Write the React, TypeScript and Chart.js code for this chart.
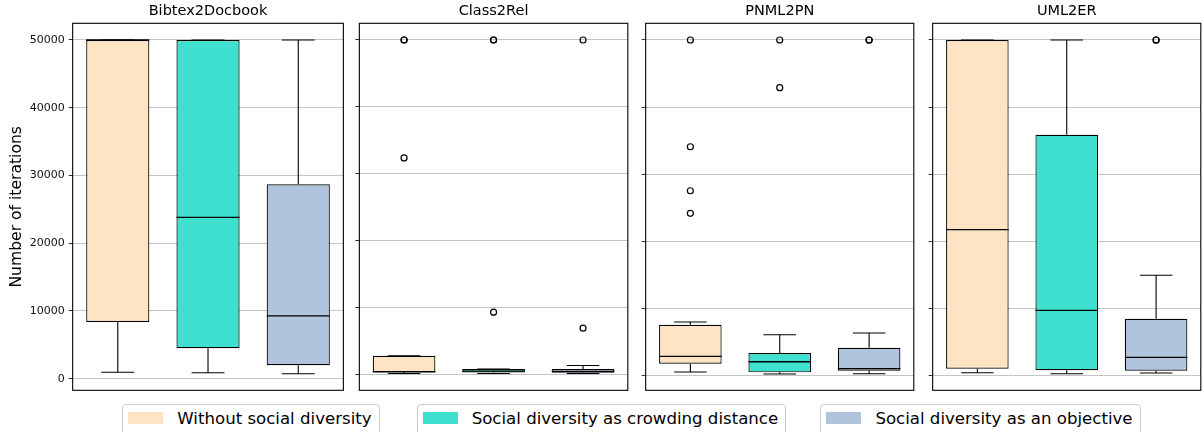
import React, { useEffect, useRef } from 'react';
import { Chart, registerables } from 'chart.js';

Chart.register(...registerables);
Chart.defaults.font.family = "'DejaVu Sans', sans-serif";

// ---------------- data ----------------
const PANEL_TITLES = ['Bibtex2Docbook', 'Class2Rel', 'PNML2PN', 'UML2ER'];
const SERIES = [
  'Without social diversity',
  'Social diversity as crowding distance',
  'Social diversity as an objective',
];
const COLORS = ['#FFE4C4', '#40E0D0', '#B0C4DE'];
const Y_TICKS = [0, 10000, 20000, 30000, 40000, 50000];
const Y_LABEL = 'Number of iterations';

// [lower whisker, q1, median, q3, upper whisker] per series
const bibtexStats = [
  [950, 8370, 50000, 50000, 50000],
  [870, 4490, 23830, 50000, 50000],
  [740, 1980, 9260, 28700, 50000],
];
const class2relStats = [
  [100, 300, 350, 2740, 2740],
  [100, 240, 450, 750, 750],
  [100, 200, 400, 750, 1290],
];
const pnmlStats = [
  [550, 1790, 2890, 7590, 7990],
  [250, 500, 2080, 3380, 6100],
  [300, 740, 1040, 4170, 6350],
];
const uml2erStats = [
  [490, 1090, 21770, 50000, 50000],
  [340, 850, 9780, 35910, 50000],
  [450, 790, 2780, 8530, 14990],
];

// outliers per series
const bibtexOutliers = [[], [], []];
const class2relOutliers = [[50000, 50000, 32350], [50000, 50000, 9270], [50000, 6880]];
const pnmlOutliers = [[50000, 34100, 27550, 24190], [50000, 42900], [50000, 50000]];
const uml2erOutliers = [[], [], [50000, 50000]];

const Y_LIMITS = [
  [-1712, 52465],
  [-2423, 52498],
  [-2175, 52487],
  [-2128, 52485],
];

const PANEL_STATS = [bibtexStats, class2relStats, pnmlStats, uml2erStats];
const PANEL_OUTLIERS = [bibtexOutliers, class2relOutliers, pnmlOutliers, uml2erOutliers];

// ---------------- layout ----------------
const PANEL_LEFT = [72.67, 359.33, 645.67, 932.67];
const PANEL_WIDTH = 270.7;
const AXIS_W = 72;
const CANVAS_H = 400;
const PLOT_BOTTOM = 390.3;
const LEGEND_LEFT = [122.3, 416.7, 820.4];

function makeDecorPlugin(stats: number[][]) {
  return {
    id: 'boxDecor',
    afterDatasetsDraw(chart: any) {
      const { ctx, chartArea } = chart;
      const xs = chart.scales.x;
      const ys = chart.scales.y;
      const meta = chart.getDatasetMeta(0);
      ctx.save();
      ctx.strokeStyle = '#000';
      stats.forEach((s, i) => {
        const el = meta.data[i];
        const cx = xs.getPixelForValue(i);
        const half = el.width / 2;
        const capHalf = el.width * 0.26;
        const [lo, q1, med, q3, hi] = s.map((v) => ys.getPixelForValue(v));
        ctx.lineWidth = 1.1;
        ctx.beginPath();
        ctx.moveTo(cx, q3);
        ctx.lineTo(cx, hi);
        ctx.moveTo(cx, q1);
        ctx.lineTo(cx, lo);
        ctx.moveTo(cx - capHalf, hi);
        ctx.lineTo(cx + capHalf, hi);
        ctx.moveTo(cx - capHalf, lo);
        ctx.lineTo(cx + capHalf, lo);
        ctx.stroke();
        ctx.lineWidth = 1.3;
        ctx.beginPath();
        ctx.moveTo(cx - half, med);
        ctx.lineTo(cx + half, med);
        ctx.stroke();
      });
      ctx.lineWidth = 1.1;
      ctx.strokeRect(chartArea.left, chartArea.top, chartArea.width, chartArea.height);
      ctx.restore();
    },
  };
}

function Panel({ index }: { index: number }) {
  const ref = useRef<HTMLCanvasElement>(null);
  const plotLeft = PANEL_LEFT[index];
  const plotRight = plotLeft + PANEL_WIDTH;
  const canvasLeft = Math.floor(plotLeft - AXIS_W);
  const canvasRight = Math.ceil(plotRight + 2);
  const canvasW = canvasRight - canvasLeft;

  useEffect(() => {
    const stats = PANEL_STATS[index];
    const outliers = PANEL_OUTLIERS[index];
    const [ymin, ymax] = Y_LIMITS[index];
    const first = index === 0;
    const chart = new Chart(ref.current as HTMLCanvasElement, {
      type: 'bar',
      data: {
        labels: SERIES,
        datasets: [
          {
            type: 'bar',
            data: stats.map((s) => [s[1], s[3]]),
            backgroundColor: COLORS,
            borderColor: '#000',
            borderWidth: 1.2,
            borderSkipped: false,
            categoryPercentage: 1,
            barPercentage: 0.7,
            order: 2,
          } as any,
          {
            type: 'scatter',
            data: outliers.flatMap((arr, s) => arr.map((v) => ({ x: SERIES[s], y: v }))),
            pointStyle: 'circle',
            pointRadius: 3,
            pointBorderColor: '#000',
            pointBorderWidth: 1.2,
            pointBackgroundColor: 'rgba(0,0,0,0)',
            showLine: false,
            order: 1,
          } as any,
        ],
      },
      options: {
        responsive: false,
        maintainAspectRatio: false,
        animation: false,
        devicePixelRatio: 1,
        events: [],
        layout: {
          padding: {
            left: plotLeft - AXIS_W - canvasLeft,
            right: canvasRight - plotRight,
            top: 0,
            bottom: CANVAS_H - PLOT_BOTTOM,
          },
        },
        plugins: {
          legend: { display: false },
          tooltip: { enabled: false },
          title: {
            display: true,
            text: PANEL_TITLES[index],
            fullSize: false,
            color: '#000',
            font: { size: 14.5, weight: 'normal' },
            padding: { top: 2.95, bottom: 2.95 },
          },
        },
        scales: {
          x: {
            type: 'category',
            display: false,
            offset: true,
          },
          y: {
            type: 'linear',
            min: ymin,
            max: ymax,
            afterBuildTicks: (scale: any) => {
              scale.ticks = Y_TICKS.map((v) => ({ value: v }));
            },
            afterFit: (scale: any) => {
              scale.width = AXIS_W;
              scale.paddingTop = 0;
              scale.paddingBottom = 0;
            },
            grid: {
              color: '#c4c4c4',
              lineWidth: 1,
              drawTicks: true,
              tickLength: 4,
              tickColor: '#333',
              tickWidth: 1,
            },
            border: { display: false },
            ticks: {
              display: first,
              color: '#111',
              font: { size: 11 },
              padding: 4,
              callback: (v: any) => String(v),
            },
            title: {
              display: first,
              text: Y_LABEL,
              color: '#000',
              font: { size: 15.6 },
              padding: { top: 6.8, bottom: 0 },
            },
          },
        },
      } as any,
      plugins: [makeDecorPlugin(stats)],
    });
    return () => chart.destroy();
  }, [index]);

  return (
    <canvas
      ref={ref}
      width={canvasW}
      height={CANVAS_H}
      style={{ position: 'absolute', left: canvasLeft, top: 0, width: canvasW, height: CANVAS_H }}
    />
  );
}

function LegendItem({ i }: { i: number }) {
  return (
    <div
      style={{
        position: 'absolute',
        left: LEGEND_LEFT[i],
        top: 404.3,
        height: 34,
        boxSizing: 'border-box',
        border: '1px solid #cccccc',
        borderRadius: 4,
        background: 'rgba(255,255,255,0.8)',
        padding: '5.7px 7px 0 5px',
        display: 'flex',
        alignItems: 'flex-start',
        whiteSpace: 'nowrap',
      }}
    >
      <div style={{ width: 35, height: 12.6, marginTop: 0.7, marginRight: 14, background: COLORS[i] }} />
      <span
        style={{
          fontFamily: "'DejaVu Sans', sans-serif",
          fontSize: 16.6,
          lineHeight: '16.6px',
          color: '#000',
        }}
      >
        {SERIES[i]}
      </span>
    </div>
  );
}

export default function App() {
  return (
    <div
      style={{
        position: 'absolute',
        left: 0,
        top: 0,
        width: 1203,
        height: 432,
        overflow: 'hidden',
        background: '#fff',
      }}
    >
      {PANEL_TITLES.map((_, i) => (
        <Panel key={i} index={i} />
      ))}
      {SERIES.map((_, i) => (
        <LegendItem key={i} i={i} />
      ))}
    </div>
  );
}
